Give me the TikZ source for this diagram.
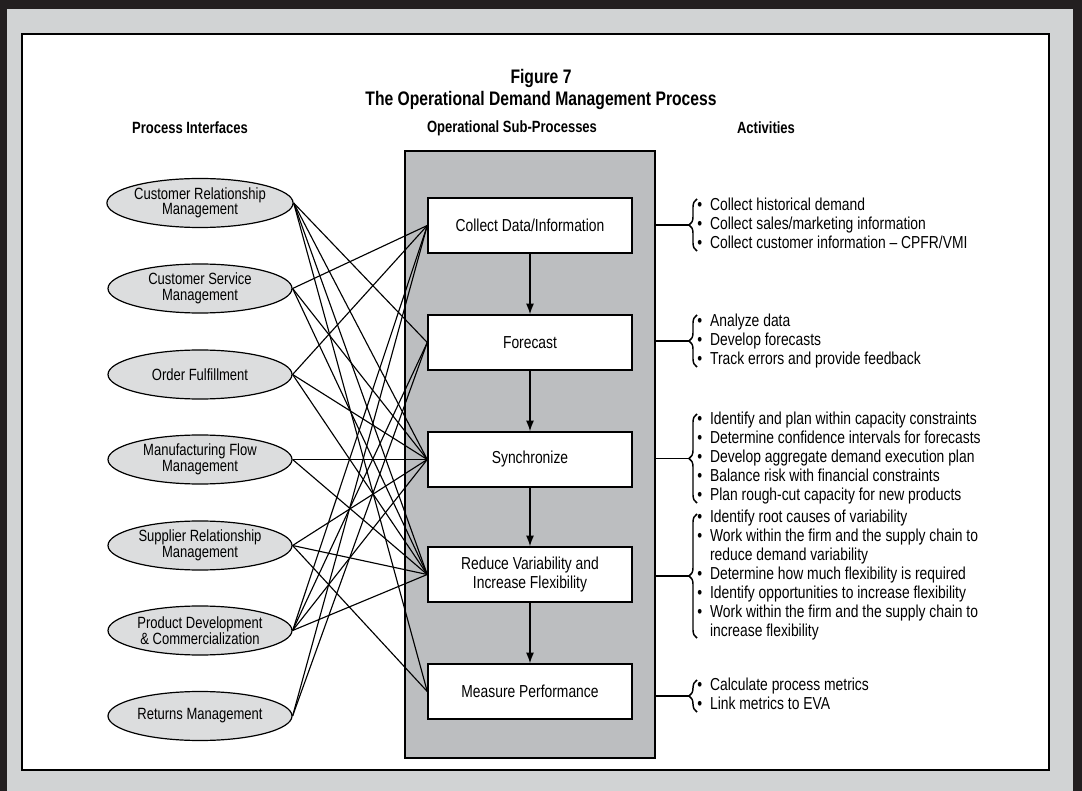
\documentclass[tikz,border=0pt]{standalone}
\usepackage{fontspec}
\setmainfont{Liberation Sans}[FakeStretch=0.8]
\usetikzlibrary{arrows.meta,decorations.pathreplacing,shapes.geometric}
\definecolor{framedark}{RGB}{35,31,32}
\definecolor{bandgray}{RGB}{209,211,212}
\definecolor{ellgray}{RGB}{220,221,222}
\definecolor{boxgray}{RGB}{188,190,192}
\tikzset{
  ellnode/.style={ellipse, draw=black, line width=0.9pt, fill=ellgray, minimum width=138pt, minimum height=36.75pt, inner sep=0pt, align=center, font=\fontsize{12.2}{11.6}\selectfont},
  subbox/.style={rectangle, draw=black, line width=1.1pt, fill=white, minimum width=153pt, minimum height=41.25pt, inner sep=0pt, align=center, font=\fontsize{13}{14.25}\selectfont},
  link/.style={line width=0.85pt},
  flow/.style={line width=1pt, -{Latex[length=8pt,width=6pt]}},
  bracestyle/.style={decorate, decoration={brace, amplitude=6pt}, line width=1.1pt},
  acts/.style={anchor=west, inner sep=0pt, font=\fontsize{13}{14.25}\selectfont},
  hdr/.style={inner sep=0pt, font=\bfseries\fontsize{12.2}{14}\selectfont},
  ttl/.style={inner sep=0pt, font=\bfseries\fontsize{14.7}{17}\selectfont},
}
\begin{document}
\begin{tikzpicture}[x=0.75pt,y=-0.75pt]
\useasboundingbox (0,0) rectangle (1082,791);
% frame
\fill[framedark] (0,0) rectangle (1082,791);
\fill[bandgray] (7,9) rectangle (1073,791);
\draw[line width=1pt, fill=white] (22,34) rectangle (1049,770);
% titles
\node[ttl] (t1) at (541,78) {Figure 7};
\node[ttl] (t2) at (541,100) {The Operational Demand Management Process};
\node[hdr] (h1) at (190,128) {Process Interfaces};
\node[hdr] (h2) at (512,128) {Operational Sub-Processes};
\node[hdr] (h3) at (766,128) {Activities};
% gray panel
\node[draw=black, line width=1pt, fill=boxgray, minimum width=187.5pt, minimum height=455.25pt, inner sep=0pt] (panel) at (530,454.5) {};
% sub-process boxes
\node[subbox] (b1) at (530,225.5) {Collect Data/Information};
\node[subbox] (b2) at (530,342.5) {Forecast};
\node[subbox] (b3) at (530,459.5) {Synchronize};
\node[subbox] (b4) at (530,574.5) {Reduce Variability and\\Increase Flexibility};
\node[subbox] (b5) at (530,691.5) {Measure Performance};
\draw[flow] (b1) -- (b2);
\draw[flow] (b2) -- (b3);
\draw[flow] (b3) -- (b4);
\draw[flow] (b4) -- (b5);
% interfaces
\node[ellnode] (e1) at (200,203) {Customer Relationship\\Management};
\node[ellnode] (e2) at (200,288.5) {Customer Service\\Management};
\node[ellnode] (e3) at (200,374.5) {Order Fulfillment};
\node[ellnode] (e4) at (200,459.5) {Manufacturing Flow\\Management};
\node[ellnode] (e5) at (200,545.5) {Supplier Relationship\\Management};
\node[ellnode] (e6) at (200,630.5) {Product Development\\\& Commercialization};
\node[ellnode] (e7) at (200,716) {Returns Management};
% links
\foreach \e/\b in {e1/b2,e1/b3,e1/b4,e1/b5,
                   e2/b1,e2/b3,e2/b4,
                   e3/b1,e3/b3,e3/b4,
                   e4/b3,e4/b4,
                   e5/b3,e5/b4,e5/b5,
                   e6/b1,e6/b2,e6/b3,e6/b4,
                   e7/b1,e7/b2}
  \draw[link] (\e.east) -- (\b.west);
% activities
\node[acts] (g1) at (697,225.5) {\begin{tabular}{@{}l@{\hspace{6pt}}l@{}}
• & Collect historical demand\\
• & Collect sales/marketing information\\
• & Collect customer information – CPFR/VMI
\end{tabular}};
\node[acts] (g2) at (697,341.7) {\begin{tabular}{@{}l@{\hspace{6pt}}l@{}}
• & Analyze data\\
• & Develop forecasts\\
• & Track errors and provide feedback
\end{tabular}};
\node[acts] (g3) at (697,459) {\begin{tabular}{@{}l@{\hspace{6pt}}l@{}}
• & Identify and plan within capacity constraints\\
• & Determine confidence intervals for forecasts\\
• & Develop aggregate demand execution plan\\
• & Balance risk with financial constraints\\
• & Plan rough-cut capacity for new products
\end{tabular}};
\node[acts] (g4) at (697,575.7) {\begin{tabular}{@{}l@{\hspace{6pt}}l@{}}
• & Identify root causes of variability\\
• & Work within the firm and the supply chain to\\
  & reduce demand variability\\
• & Determine how much flexibility is required\\
• & Identify opportunities to increase flexibility\\
• & Work within the firm and the supply chain to\\
  & increase flexibility
\end{tabular}};
\node[acts] (g5) at (697,696) {\begin{tabular}{@{}l@{\hspace{6pt}}l@{}}
• & Calculate process metrics\\
• & Link metrics to EVA
\end{tabular}};
% braces
\coordinate (k1a) at (697,199); \coordinate (k1b) at (697,251);
\coordinate (k2a) at (697,315); \coordinate (k2b) at (697,367);
\coordinate (k3a) at (697,414); \coordinate (k3b) at (697,503);
\coordinate (k4a) at (697,514); \coordinate (k4b) at (697,638);
\coordinate (k5a) at (697,680); \coordinate (k5b) at (697,712);
\draw[bracestyle] (k1b) -- (k1a);
\draw[bracestyle] (k2b) -- (k2a);
\draw[bracestyle] (k3b) -- (k3a);
\draw[bracestyle] (k4b) -- (k4a);
\draw[bracestyle] (k5b) -- (k5a);
\coordinate (p1) at (689,225); \coordinate (p2) at (689,341);
\coordinate (p3) at (689,458.5); \coordinate (p4) at (689,576); \coordinate (p5) at (689,696);
\draw[line width=1pt] (panel.east |- p1) -- (p1);
\draw[line width=1pt] (panel.east |- p2) -- (p2);
\draw[line width=1pt] (panel.east |- p3) -- (p3);
\draw[line width=1pt] (panel.east |- p4) -- (p4);
\draw[line width=1pt] (panel.east |- p5) -- (p5);
\end{tikzpicture}
\end{document}
